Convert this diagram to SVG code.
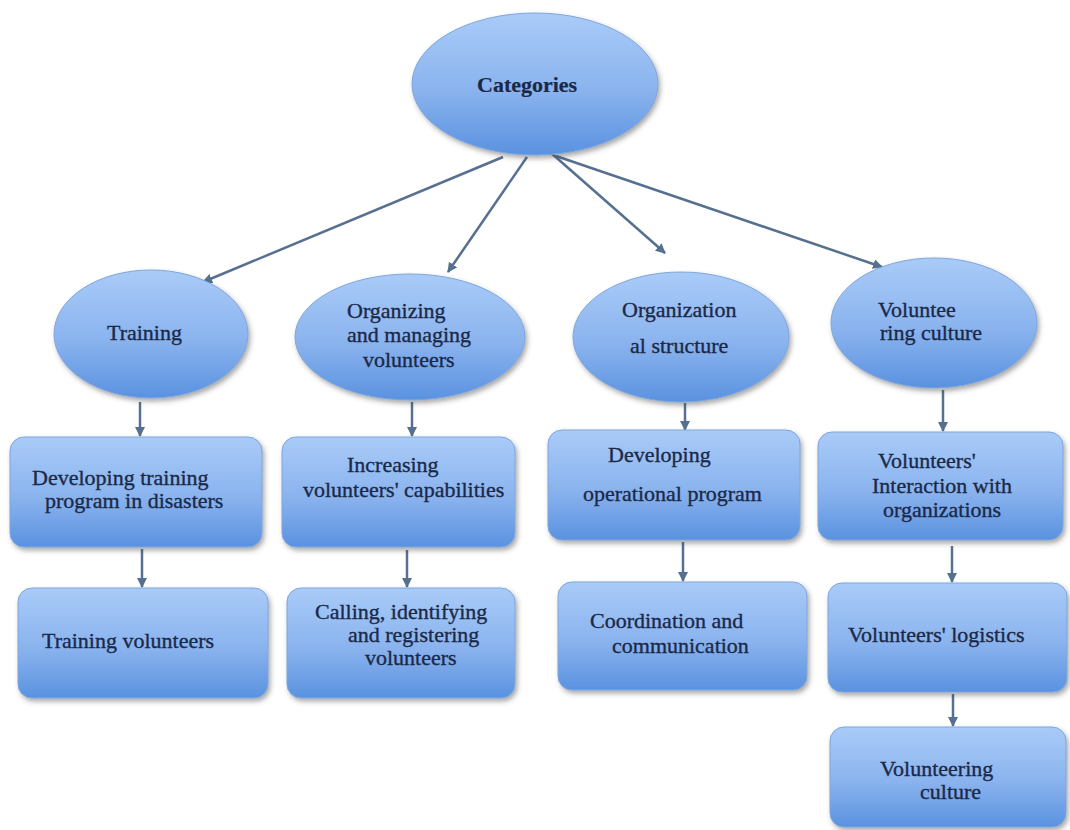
<svg xmlns="http://www.w3.org/2000/svg" width="1070" height="830" viewBox="0 0 1070 830">
<defs>
<linearGradient id="g" x1="0" y1="0" x2="0" y2="1">
<stop offset="0" stop-color="#a9cbf8"/>
<stop offset="0.55" stop-color="#8ab3ee"/>
<stop offset="1" stop-color="#5a92e0"/>
</linearGradient>
<filter id="sh" x="-10%" y="-10%" width="125%" height="130%">
<feDropShadow dx="2" dy="3" stdDeviation="2.5" flood-color="#404040" flood-opacity="0.45"/>
</filter>
<marker id="ah" markerUnits="userSpaceOnUse" markerWidth="10" markerHeight="10" refX="9" refY="5" orient="auto">
<path d="M0,0 L10,5 L0,10 z" fill="#56708f"/>
</marker>
</defs>
<style>
.n{fill:url(#g);stroke:#7ea6dc;stroke-width:1;filter:url(#sh)}
.t{font-family:"Liberation Serif","Times New Roman",serif;font-size:22px;fill:#1b2948;stroke:#1b2948;stroke-width:0.35}
.b{font-weight:bold;stroke-width:0.2}
.c{stroke:#56708f;stroke-width:2.5;fill:none;marker-end:url(#ah)}
</style>
<rect width="1070" height="830" fill="#ffffff"/>
<g id="connectors">
<line class="c" x1="503" y1="157" x2="203" y2="282"/>
<line class="c" x1="527" y1="157" x2="448" y2="272"/>
<line class="c" x1="542" y1="145" x2="665" y2="253"/>
<line class="c" x1="556" y1="156" x2="882" y2="267"/>
<line class="c" x1="140" y1="402" x2="140" y2="436"/>
<line class="c" x1="142" y1="549" x2="142" y2="587"/>
<line class="c" x1="412" y1="402" x2="412" y2="436"/>
<line class="c" x1="407" y1="550" x2="407" y2="587"/>
<line class="c" x1="685" y1="403" x2="685" y2="430"/>
<line class="c" x1="683" y1="542" x2="683" y2="581"/>
<line class="c" x1="943" y1="390" x2="943" y2="431"/>
<line class="c" x1="952" y1="546" x2="952" y2="582"/>
<line class="c" x1="953" y1="694" x2="953" y2="726"/>
</g>
<g id="categories">
<ellipse class="n" cx="535" cy="84" rx="123" ry="71"/>
<text class="t b" x="477" y="92">Categories</text>
</g>
<g id="training">
<ellipse class="n" cx="151" cy="334" rx="97" ry="64"/>
<text class="t" x="107" y="340">Training</text>
</g>
<g id="organizing">
<ellipse class="n" cx="410" cy="337" rx="115" ry="63"/>
<text class="t" x="347" y="318">Organizing</text>
<text class="t" x="347" y="342">and managing</text>
<text class="t" x="363" y="367">volunteers</text>
</g>
<g id="orgstructure">
<ellipse class="n" cx="681" cy="337" rx="108" ry="65"/>
<text class="t" x="622" y="317">Organization</text>
<text class="t" x="630" y="353">al structure</text>
</g>
<g id="volculture">
<ellipse class="n" cx="934" cy="323" rx="103" ry="65"/>
<text class="t" x="878" y="317">Voluntee</text>
<text class="t" x="880" y="340">ring culture</text>
</g>
<g id="dev-training">
<rect class="n" x="10" y="437" width="252" height="110" rx="14"/>
<text class="t" x="32" y="485">Developing training</text>
<text class="t" x="45" y="508">program in disasters</text>
</g>
<g id="increasing">
<rect class="n" x="282" y="437" width="233" height="110" rx="14"/>
<text class="t" x="347" y="472">Increasing</text>
<text class="t" x="303" y="497">volunteers' capabilities</text>
</g>
<g id="dev-operational">
<rect class="n" x="548" y="430" width="252" height="110" rx="14"/>
<text class="t" x="608" y="462">Developing</text>
<text class="t" x="583" y="501">operational program</text>
</g>
<g id="interaction">
<rect class="n" x="818" y="432" width="245" height="108" rx="14"/>
<text class="t" x="878" y="468">Volunteers'</text>
<text class="t" x="872" y="493">Interaction with</text>
<text class="t" x="883" y="517">organizations</text>
</g>
<g id="training-vol">
<rect class="n" x="18" y="588" width="250" height="110" rx="14"/>
<text class="t" x="42" y="648">Training volunteers</text>
</g>
<g id="calling">
<rect class="n" x="287" y="588" width="228" height="110" rx="14"/>
<text class="t" x="315" y="619">Calling, identifying</text>
<text class="t" x="348" y="642">and registering</text>
<text class="t" x="365" y="665">volunteers</text>
</g>
<g id="coordination">
<rect class="n" x="558" y="582" width="249" height="108" rx="14"/>
<text class="t" x="590" y="628">Coordination and</text>
<text class="t" x="612" y="653">communication</text>
</g>
<g id="logistics">
<rect class="n" x="828" y="583" width="239" height="109" rx="14"/>
<text class="t" x="848" y="642">Volunteers' logistics</text>
</g>
<g id="vol-culture-box">
<rect class="n" x="830" y="727" width="236" height="100" rx="14"/>
<text class="t" x="880" y="776">Volunteering</text>
<text class="t" x="920" y="799">culture</text>
</g>
</svg>
